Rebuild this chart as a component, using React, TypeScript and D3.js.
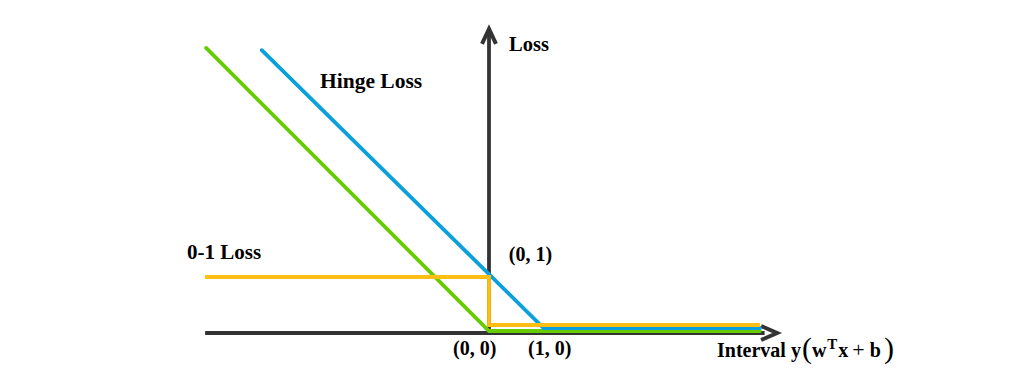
import React from "react";
import * as d3 from "d3";

type P = { x: number; y: number };

const zeroOneLoss: P[] = [
  { x: -5.46, y: 1 },
  { x: 0, y: 1 },
  { x: 0, y: 0.143 },
  { x: 5.21, y: 0.143 },
];
const hingeLoss: P[] = [
  { x: -4.37, y: 5.05 },
  { x: 1.05, y: 0.089 },
  { x: 5.21, y: 0.089 },
];
const perceptronLoss: P[] = [
  { x: -5.44, y: 5.09 },
  { x: 0, y: 0.036 },
  { x: 5.21, y: 0.036 },
];
const xAxisLine: P[] = [
  { x: -5.46, y: 0 },
  { x: 5.3, y: 0 },
];
const yAxisLine: P[] = [
  { x: 0, y: 0 },
  { x: 0, y: 5.38 },
];
const pointLabels = [
  { text: "(0, 1)", x: 0.38, y: 1.28 },
  { text: "(0, 0)", x: -0.69, y: -0.4 },
  { text: "(1, 0)", x: 0.75, y: -0.4 },
];

export default function App() {
  const W = 1015;
  const H = 382;
  const x = d3.scaleLinear().domain([0, 1]).range([489, 541]);
  const y = d3.scaleLinear().domain([0, 1]).range([333, 277]);
  const line = d3
    .line<P>()
    .x((d) => x(d.x))
    .y((d) => y(d.y));
  const axisColor = "#333333";
  const font = "'Liberation Serif', 'Times New Roman', serif";
  const xTip = 5.54;
  const yTip = 5.43;
  return (
    <svg width={W} height={H} style={{ position: "absolute", left: 0, top: 0, background: "#fff" }}>
      <path d={line(xAxisLine) || ""} stroke={axisColor} strokeWidth={3.8} fill="none" />
      <path
        d={`M${x(xTip) - 16},${y(0) - 7} L${x(xTip)},${y(0)} L${x(xTip) - 16},${y(0) + 7}`}
        stroke={axisColor}
        strokeWidth={4}
        fill="none"
        strokeLinejoin="miter"
      />
      <path d={line(yAxisLine) || ""} stroke={axisColor} strokeWidth={3.8} fill="none" />
      <path
        d={`M${x(0) - 7},${y(yTip) + 15} L${x(0)},${y(yTip)} L${x(0) + 7},${y(yTip) + 15}`}
        stroke={axisColor}
        strokeWidth={4}
        fill="none"
        strokeLinejoin="miter"
      />
      <path d={line(perceptronLoss) || ""} stroke="#66cc00" strokeWidth={3.8} fill="none" strokeLinecap="round" />
      <path d={line(hingeLoss) || ""} stroke="#0aa0dc" strokeWidth={3.8} fill="none" strokeLinecap="round" />
      <path d={line(zeroOneLoss) || ""} stroke="#ffbe14" strokeWidth={3.8} fill="none" />

      <g fontFamily={font} fontWeight="bold" fill="#000">
        <text x={509} y={51} fontSize={20.5}>Loss</text>
        <text x={320} y={88} fontSize={21.5}>Hinge Loss</text>
        <text x={187} y={259} fontSize={21}>0-1 Loss</text>
        {pointLabels.map((p) => (
          <text key={p.text} x={x(p.x)} y={y(p.y)} fontSize={20}>
            {p.text}
          </text>
        ))}
        <text x={717} y={357} fontSize={20}>
          <tspan>Interval y</tspan>
          <tspan fontSize={30} fontWeight="normal" dx={1} dy={1}>(</tspan>
          <tspan dy={-1}>w</tspan>
          <tspan fontSize={15} dy={-8} dx={1}>T</tspan>
          <tspan dy={8} dx={1}>x</tspan>
          <tspan fontWeight="normal" fontSize={22} dx={4}>+</tspan>
          <tspan dx={5}>b</tspan>
          <tspan fontSize={30} fontWeight="normal" dx={3} dy={1}>)</tspan>
        </text>
      </g>
    </svg>
  );
}
